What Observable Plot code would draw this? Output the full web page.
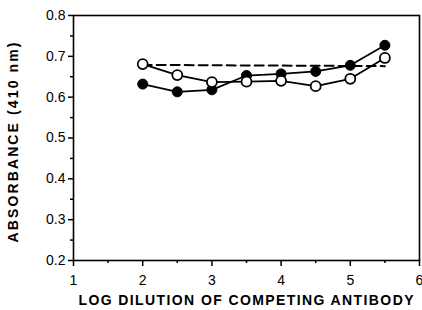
<!DOCTYPE html>
<html>
<head>
<meta charset="utf-8">
<script src="https://cdn.jsdelivr.net/npm/d3@7"></script>
<script src="https://cdn.jsdelivr.net/npm/@observablehq/plot@0.6"></script>
<style>
  html, body { margin: 0; padding: 0; background: #fff; }
  svg { font-family: "Liberation Sans", Arial, Helvetica, sans-serif; }
</style>
</head>
<body>
<div id="chart"></div>
<script>
const dilution = [2, 2.5, 3, 3.5, 4, 4.5, 5, 5.5];
const filled = [0.632, 0.613, 0.618, 0.653, 0.657, 0.663, 0.678, 0.727];
const open = [0.681, 0.654, 0.637, 0.638, 0.640, 0.627, 0.645, 0.696];
const dashX = [2, 5.5];
const dashY = [0.679, 0.676];
const xTicks = [1, 2, 3, 4, 5, 6];
const xMinor = [1.5, 2.5, 3.5, 4.5, 5.5];
const yTicks = [0.2, 0.3, 0.4, 0.5, 0.6, 0.7, 0.8];
const yMinor = [0.25, 0.35, 0.45, 0.55, 0.65, 0.75];
const xTitle = "LOG DILUTION OF COMPETING ANTIBODY";
const yTitle = "ABSORBANCE (410 nm)";

const filledData = dilution.map((x, i) => ({x, y: filled[i]}));
const openData = dilution.map((x, i) => ({x, y: open[i]}));
const dashData = dashX.map((x, i) => ({x, y: dashY[i]}));

const plot = Plot.plot({
  width: 422,
  height: 310,
  marginLeft: 73,
  marginRight: 3,
  marginTop: 15,
  marginBottom: 50,
  style: {fontSize: "14px", fontFamily: "Liberation Sans, Arial, sans-serif", color: "#000", background: "#fff"},
  x: {domain: [1, 6]},
  y: {domain: [0.2, 0.8]},
  marks: [
    Plot.frame({stroke: "#000", strokeWidth: 1.6}),
    Plot.axisX({ticks: xTicks, tickSize: 6, tickPadding: 9, tickFormat: d => String(d), strokeWidth: 1.5, label: null}),
    Plot.axisX({ticks: xMinor, tickSize: 3, tickFormat: null, text: null, strokeWidth: 1.5, label: null}),
    Plot.axisY({ticks: yTicks, tickSize: 5, tickPadding: 3, tickFormat: d => d.toFixed(1), strokeWidth: 1.5, label: null}),
    Plot.axisY({ticks: yMinor, tickSize: 3, tickFormat: null, text: null, strokeWidth: 1.5, label: null}),
    Plot.line(dashData, {x: "x", y: "y", stroke: "#000", strokeWidth: 2, strokeDasharray: "9,5"}),
    Plot.line(filledData, {x: "x", y: "y", stroke: "#000", strokeWidth: 1.8}),
    Plot.line(openData, {x: "x", y: "y", stroke: "#000", strokeWidth: 1.8}),
    Plot.dot(filledData, {x: "x", y: "y", r: 5, fill: "#000", stroke: "#000", strokeWidth: 1}),
    Plot.dot(openData, {x: "x", y: "y", r: 5, fill: "#fff", stroke: "#000", strokeWidth: 1.8}),
    Plot.text([xTitle], {frameAnchor: "bottom-left", dx: 5, dy: 44, textAnchor: "start", text: d => d, fontWeight: "bold", fontSize: 14, fill: "#000"}),
    Plot.text([yTitle], {frameAnchor: "bottom-left", dx: -56, dy: -18, rotate: -90, textAnchor: "start", text: d => d, fontWeight: "bold", fontSize: 14, fill: "#000"})
  ]
});

const svg = d3.select(plot);
svg.selectAll("text").each(function() {
  const t = this.textContent;
  if (t === xTitle) { d3.select(this).attr("textLength", 335).attr("lengthAdjust", "spacing"); }
  if (t === yTitle) { d3.select(this).attr("textLength", 200).attr("lengthAdjust", "spacing"); }
});
document.getElementById("chart").appendChild(plot);
</script>
</body>
</html>
